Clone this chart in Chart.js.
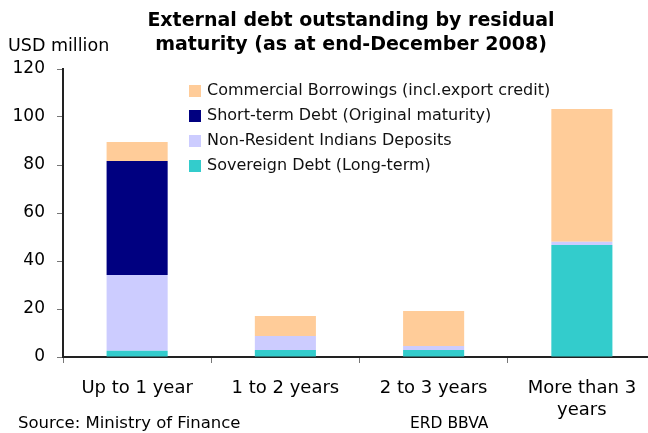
<!DOCTYPE html>
<html>
<head>
<meta charset="utf-8">
<script src="https://cdn.jsdelivr.net/npm/chart.js@4"></script>
<style>
  html, body { margin: 0; padding: 0; background: #fff; overflow: hidden; }
  #wrap { position: absolute; left: 0; top: 0; width: 656px; height: 433px; }
</style>
</head>
<body>
<div id="wrap"><canvas id="debtChart" width="656" height="433"></canvas></div>
<script>
// Residual maturity buckets
const maturities = ['Up to 1 year', '1 to 2 years', '2 to 3 years', ['More than 3', 'years']];

// USD million, stacked bottom to top
const sovereignDebt = [2.6, 2.9, 2.9, 46.7];
const nriDeposits = [31.6, 5.85, 1.7, 1.3];
const shortTermDebt = [47.5, 0, 0, 0];
const commercialBorrowings = [7.9, 8.35, 14.6, 55.3];

const yTicks = [0, 20, 40, 60, 80, 100, 120];

const FONT = 'DejaVu Sans';

// legend + title + notes drawn straight onto the canvas
const extras = {
    id: 'extras',
    afterDraw(chart) {
        const ctx = chart.ctx;
        ctx.save();
        ctx.fillStyle = '#000';
        ctx.textAlign = 'center';
        ctx.textBaseline = 'middle';
        ctx.font = 'bold 19px ' + FONT;
        ctx.fillText('External debt outstanding by residual', 351, 21);
        ctx.fillText('maturity (as at end-December 2008)', 351, 45);

        ctx.textAlign = 'left';
        ctx.font = '17.5px ' + FONT;
        ctx.fillText('USD million', 8, 46);
        ctx.font = '16.5px ' + FONT;
        ctx.fillText('Source: Ministry of Finance', 18, 424);
        ctx.font = '15.5px ' + FONT;
        ctx.fillText('ERD BBVA', 410, 424);

        // legend, top series first
        const sets = chart.data.datasets.slice().reverse();
        ctx.font = '16px ' + FONT;
        sets.forEach(function(ds, i) {
            const y = 91 + i * 25;
            ctx.fillStyle = ds.backgroundColor;
            ctx.fillRect(189, y - 6, 12, 12);
            ctx.fillStyle = '#111';
            ctx.fillText(ds.label, 207, y);
        });
        ctx.restore();
    }
};

new Chart(document.getElementById('debtChart'), {
    type: 'bar',
    data: {
        labels: maturities,
        datasets: [{
            label: 'Sovereign Debt (Long-term)',
            data: sovereignDebt,
            backgroundColor: '#33CCCC'
        }, {
            label: 'Non-Resident Indians Deposits',
            data: nriDeposits,
            backgroundColor: '#CCCCFF'
        }, {
            label: 'Short-term Debt (Original maturity)',
            data: shortTermDebt,
            backgroundColor: '#000080'
        }, {
            label: 'Commercial Borrowings (incl.export credit)',
            data: commercialBorrowings,
            backgroundColor: '#FFCC99'
        }]
    },
    options: {
        responsive: false,
        animation: false,
        layout: { padding: { top: 69, left: 0, right: 0, bottom: 0 } },
        datasets: { bar: { categoryPercentage: 1, barPercentage: 0.412 } },
        plugins: {
            legend: { display: false },
            tooltip: { enabled: false },
            title: { display: false }
        },
        scales: {
            x: {
                stacked: true,
                grid: { drawOnChartArea: false, offset: true, tickLength: 6, color: '#777' },
                border: { color: '#222', width: 2 },
                ticks: { color: '#000', font: { family: FONT, size: 18, lineHeight: 1.22 }, padding: 14, maxRotation: 0 },
                afterFit: function(scale) { scale.height = 76; }
            },
            y: {
                stacked: true,
                min: 0,
                max: 120,
                afterBuildTicks: function(scale) {
                    scale.ticks = yTicks.map(function(v) { return { value: v }; });
                },
                grid: { drawOnChartArea: false, tickLength: 6, color: '#777' },
                border: { color: '#222', width: 2 },
                ticks: { color: '#000', font: { family: FONT, size: 17 }, padding: 12 },
                afterFit: function(scale) { scale.width = 63; }
            }
        }
    },
    plugins: [extras]
});
</script>
</body>
</html>
